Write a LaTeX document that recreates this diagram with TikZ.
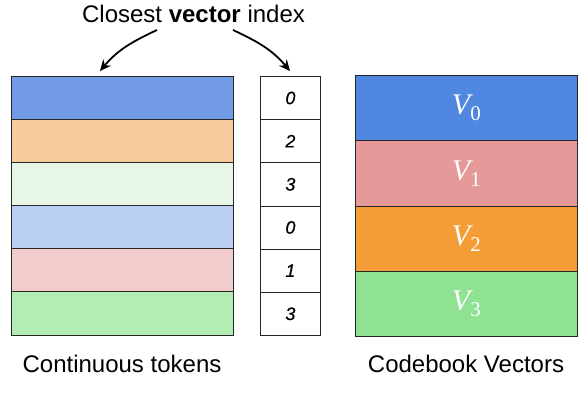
\documentclass[tikz,border=0pt]{standalone}
\usepackage{fontspec}
\setmainfont{Liberation Sans}
\newfontfamily\tnr{Liberation Serif}
\newfontfamily\idxfont{Liberation Sans}[ItalicFeatures={FakeBold=0.6}]
\usetikzlibrary{arrows.meta}
\definecolor{cA}{HTML}{729BE5}
\definecolor{cB}{HTML}{F9CB9C}
\definecolor{cC}{HTML}{E8F6E8}
\definecolor{cD}{HTML}{B9CEF3}
\definecolor{cE}{HTML}{F2CCCC}
\definecolor{cF}{HTML}{B3EDB3}
\definecolor{vA}{HTML}{5087E0}
\definecolor{vB}{HTML}{E59999}
\definecolor{vC}{HTML}{F49C35}
\definecolor{vD}{HTML}{8FE292}
\tikzset{
  tok/.style={draw=black!85, line width=0.8pt, minimum width=222pt, minimum height=43.17pt, inner sep=0pt, anchor=north west, outer sep=0pt},
  idx/.style={draw=black!85, line width=0.8pt, fill=white, minimum width=60pt, minimum height=43.17pt, inner sep=0pt, anchor=north west, font=\idxfont\fontsize{18}{18}\selectfont\itshape},
  cb/.style={draw=black!85, line width=0.8pt, minimum width=222pt, minimum height=65.25pt, inner sep=0pt, anchor=north west, text=white},
  lbl/.style={font=\fontsize{24}{24}\selectfont, anchor=base, inner sep=0pt},
  arr/.style={line width=1.8pt, -{Stealth[length=11pt,width=10pt]}}
}
\newcommand{\vlab}[1]{{\tnr\fontsize{30}{30}\selectfont\itshape V}\raisebox{-6pt}{\tnr\fontsize{21}{21}\selectfont #1}}
\begin{document}
\begin{tikzpicture}[x=1pt,y=-1pt]
\useasboundingbox (0,0) rectangle (587,400);
% continuous tokens
\node[tok, fill=cA] (t0) at (11,76) {};
\node[tok, fill=cB] (t1) at (11,119.17) {};
\node[tok, fill=cC] (t2) at (11,162.33) {};
\node[tok, fill=cD] (t3) at (11,205.5) {};
\node[tok, fill=cE] (t4) at (11,248.67) {};
\node[tok, fill=cF] (t5) at (11,291.83) {};
% indices
\node[idx] (i0) at (260,76) {0};
\node[idx] (i1) at (260,119.17) {2};
\node[idx] (i2) at (260,162.33) {3};
\node[idx] (i3) at (260,205.5) {0};
\node[idx] (i4) at (260,248.67) {1};
\node[idx] (i5) at (260,291.83) {3};
% codebook
\node[cb, fill=vA] (v0) at (355,75) {\vlab{0}};
\node[cb, fill=vB] (v1) at (355,140.25) {\vlab{1}};
\node[cb, fill=vC] (v2) at (355,205.5) {\vlab{2}};
\node[cb, fill=vD] (v3) at (355,270.75) {\vlab{3}};
% labels
\node[lbl] (title) at (193.5,22) {Closest \textbf{vector} index};
\node[lbl] (ct) at (122,372) {Continuous tokens};
\node[lbl] (cv) at (466,372) {Codebook Vectors};
% arrows
\coordinate (sl) at (157,30);
\coordinate (sr) at (233,30);
\coordinate (el) at (100,71);
\coordinate (er) at (290,71);
\draw[arr] (sl) to[out=205,in=50] (el);
\draw[arr] (sr) to[out=-25,in=130] (er);
\end{tikzpicture}
\end{document}
